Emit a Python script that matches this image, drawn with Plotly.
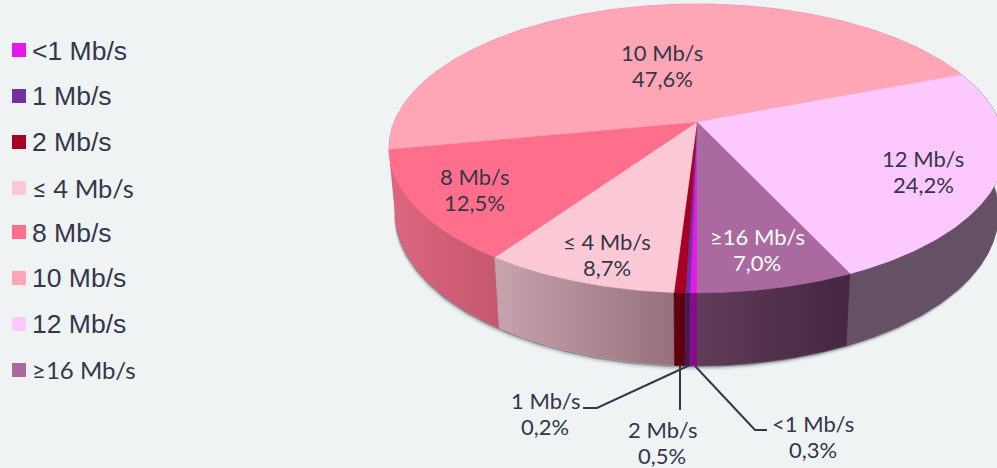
import numpy as np
import plotly.graph_objects as go

categories = ["<1 Mb/s", "1 Mb/s", "2 Mb/s", "≤ 4 Mb/s", "8 Mb/s", "10 Mb/s", "12 Mb/s", "≥16 Mb/s"]
shares = [0.3, 0.2, 0.5, 8.7, 12.5, 47.6, 24.2, 7.0]
share_labels = ["0,3%", "0,2%", "0,5%", "8,7%", "12,5%", "47,6%", "24,2%", "7,0%"]
top_colors = ["#e519ef", "#7330a0", "#a60025", "#fbc9d5", "#ff6f8b", "#ffa6b6", "#fcc8fd", "#ab6a9f"]
wall_left = ["#880a88", "#44195e", "#5f0012", "#c8a2ad", "#de6680", "#de6680", "#665065", "#613c59"]
wall_right = ["#880a88", "#44195e", "#5f0012", "#96707a", "#c4576e", "#de6680", "#665065", "#44263f"]
label_xy = [(813, 436), (545, 413), (662, 442), (607, 254), (474, 189), (662, 65), (923, 171), (757, 249)]
label_colors = ["#33374b"] * 7 + ["#ffffff"]
legend_y = [50.5, 95.5, 141.5, 188, 232.5, 277.5, 323.5, 369.5]
legend_fonts = ["Liberation Sans"] * 3 + ["Lato"] + ["Liberation Sans"] * 3 + ["Lato"]
legend_sizes = [26.5, 26.5, 26.5, 25.5, 26.5, 26.5, 26.5, 24]

CX, CY = 697.0, 122.0
K, A, B = 0.183, 139.6, 302.8
E, D = 0.02, 64.5
BG = "#eff3f4"
INK = "#33374b"


def rim(phi, lower=False):
    u, v = -np.sin(phi), np.cos(phi)
    if lower:
        w = 1 - K * v + E
        return CX + B * u / w, CY + (A * v + D) / w
    w = 1 - K * v
    return CX + B * u / w, CY + A * v / w


edges = np.cumsum([0] + shares) / sum(shares) * 2 * np.pi
spans = [np.linspace(a, b, max(3, int((b - a) * 90))) for a, b in zip(edges[:-1], edges[1:])]

fig = go.Figure()
plain = dict(mode="lines", hoverinfo="skip", showlegend=False, fill="toself")

# soft shadow under the body
whole = np.linspace(0, 2 * np.pi, 400)
bx, by = rim(whole, True)
for off, alpha in [(5, 0.06), (3.5, 0.12), (2, 0.26), (1, 0.4)]:
    fig.add_trace(go.Scatter(x=bx - off * 0.35, y=by + off, line=dict(width=0),
                             fillcolor=f"rgba(60,65,70,{alpha})", **plain))

# side walls, drawn back to front
order = sorted(range(len(shares)), key=lambda i: np.cos(spans[i]).mean())
for i in order:
    tx, ty = rim(spans[i])
    lx, ly = rim(spans[i], True)
    xs = np.r_[tx, lx[::-1]]
    ys = np.r_[ty, ly[::-1]]
    fig.add_trace(go.Scatter(
        x=xs, y=ys, line=dict(width=0.5, color=wall_left[i]),
        fillgradient=dict(type="horizontal", colorscale=[[0, wall_left[i]], [1, wall_right[i]]]),
        **plain))

# top faces
for i in range(len(shares)):
    tx, ty = rim(spans[i])
    fig.add_trace(go.Scatter(
        x=np.r_[CX, tx, CX], y=np.r_[CY, ty, CY],
        line=dict(width=0.4, color=top_colors[i]), fillcolor=top_colors[i], **plain))

annotations = []
for name, pct, (x, y), col in zip(categories, share_labels, label_xy, label_colors):
    for text, dy in ((name, -13), (pct, 13)):
        annotations.append(dict(x=x, y=y + dy, xref="x", yref="y", text=text, showarrow=False,
                                xanchor="center", yanchor="middle", align="center",
                                height=26, borderpad=0,
                                font=dict(family="Lato", size=22, color=col)))
shapes = []
for name, col, y, fam, size in zip(categories, top_colors, legend_y, legend_fonts, legend_sizes):
    shapes.append(dict(type="rect", xref="x", yref="y", x0=12, x1=26, y0=round(y) - 7, y1=round(y) + 7,
                       fillcolor=col, line=dict(width=0)))
    annotations.append(dict(x=30, y=y, xref="x", yref="y", text=name, showarrow=False,
                            xanchor="left", yanchor="middle",
                            font=dict(family=fam, size=size, color=INK)))

leader_x = [[695, 755, 767], [690, 597, 583], [680, 680]]
leader_y = [[366, 430, 430], [365, 408, 408], [366, 410]]
for lx, ly in zip(leader_x, leader_y):
    fig.add_trace(go.Scatter(x=lx, y=ly, mode="lines", hoverinfo="skip", showlegend=False,
                             line=dict(color=INK, width=2)))

fig.update_layout(
    width=997, height=468, margin=dict(l=0, r=0, t=0, b=0),
    paper_bgcolor=BG, plot_bgcolor=BG, showlegend=False,
    xaxis=dict(range=[0, 997], visible=False, fixedrange=True),
    yaxis=dict(range=[468, 0], visible=False, fixedrange=True),
    annotations=annotations, shapes=shapes,
)
fig.write_html("out.html", config=dict(displayModeBar=False),
               post_script="document.body.style.margin='0';document.body.style.overflow='hidden';document.body.style.background='#eff3f4';")
